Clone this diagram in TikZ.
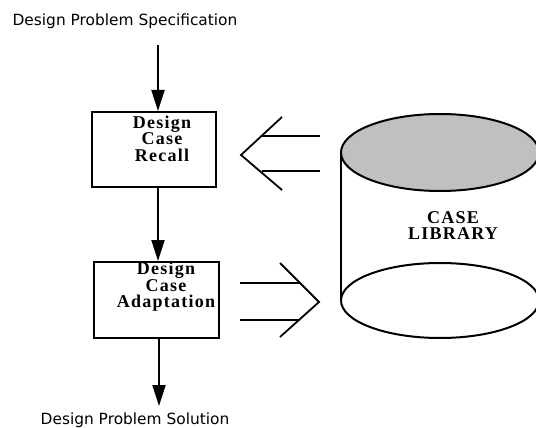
\documentclass[tikz,border=0pt]{standalone}
\usepackage{fontspec}
\setmainfont{Liberation Serif}
\newfontfamily\labelfont{DejaVu Sans}
\newfontfamily\spacedserif[LetterSpace=7]{Liberation Serif}
\usetikzlibrary{arrows.meta}
\definecolor{libgray}{HTML}{C0C0C0}
\tikzset{
  lbl/.style={font=\labelfont\fontsize{15.4}{18}\selectfont, inner sep=0pt, anchor=base},
  boxtxt/.style={font=\spacedserif\bfseries\fontsize{18}{16.5}\selectfont, align=center, inner sep=0pt, anchor=north},
  procbox/.style={draw, line width=2pt, inner sep=0pt},
  flow/.style={line width=2pt, -{Triangle[length=21pt,width=13pt]}},
  hollow/.style={line width=1.8pt},
  cyl/.style={line width=2pt},
}
\begin{document}
\begin{tikzpicture}[x=1pt,y=-1pt]
\useasboundingbox (0,0) rectangle (536,428);
\clip (0,0) rectangle (536,428);

% labels
\node[lbl] (spec) at (125,26) {Design Problem Specification};
\node[lbl] (sol) at (135,424) {Design Problem Solution};

% process boxes
\node[procbox, minimum width=124pt, minimum height=75pt] (recall) at (154,149.5) {};
\node[procbox, minimum width=125pt, minimum height=76pt] (adapt) at (156.5,300) {};
\node[boxtxt] (recalltxt) at (162,115.5) {Design\\Case\\Recall};
\node[boxtxt] (adapttxt) at (166,262) {Design\\Case\\Adaptation};

% flow arrows
\coordinate (start) at (158,45);
\coordinate (endp) at (159,406);
\draw[flow] (start) -- (start |- recall.north);
\draw[flow] ([xshift=4pt]recall.south) -- ([xshift=1.5pt]adapt.north);
\draw[flow] (adapt.south -| endp) -- (endp);

% case library cylinder
\draw[cyl, fill=libgray] (440,152.5) ellipse [x radius=99, y radius=38.5];
\draw[cyl] (440,300.5) ellipse [x radius=99, y radius=37.5];
\draw[cyl] (341,152.5) -- (341,300.5);
\draw[cyl] (539,152.5) -- (539,300.5);
\node[boxtxt] (library) at (453,211) {CASE\\LIBRARY};

% hollow arrow: library -> recall
\coordinate (rtip) at (241,155);
\draw[hollow] (282,117) -- (rtip) -- (282,190);
\draw[hollow] (261.5,136) -- (320,136);
\draw[hollow] (261.5,171) -- (320,171);

% hollow arrow: adaptation -> library
\coordinate (atip) at (319,302);
\draw[hollow] (280,263) -- (atip) -- (280,337);
\draw[hollow] (240,283) -- (300,283);
\draw[hollow] (240,320) -- (300,320);
\end{tikzpicture}
\end{document}
